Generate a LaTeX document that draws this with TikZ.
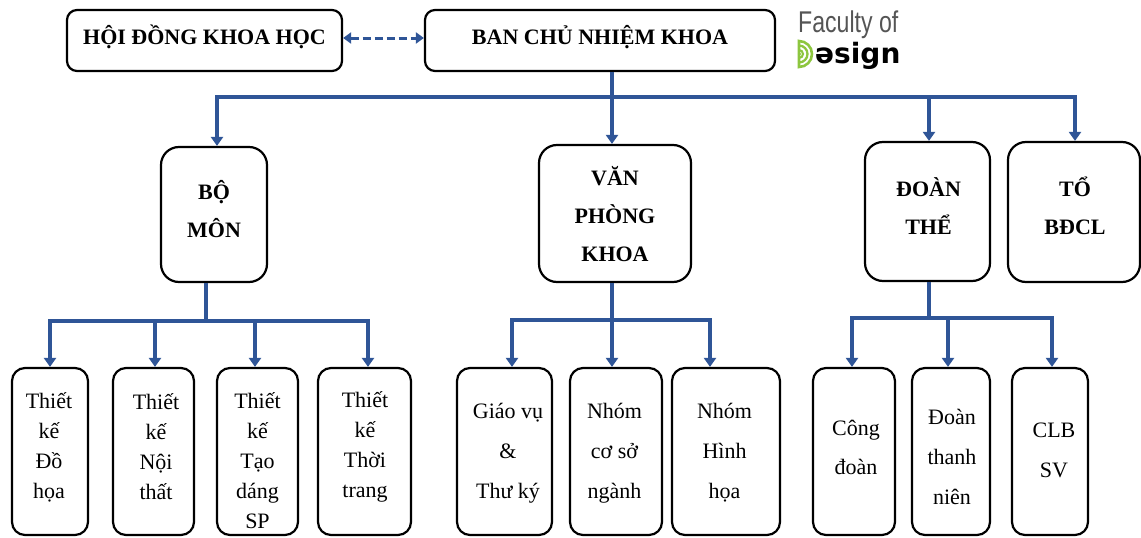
\documentclass[tikz,border=0pt]{standalone}
\usepackage{fontspec}
\setmainfont{Liberation Serif}
\newfontfamily\logofont{Liberation Sans}
\newfontfamily\logobold{DejaVu Sans}
\usetikzlibrary{arrows.meta}
\definecolor{linkblue}{RGB}{47,85,151}
\definecolor{logogreen}{RGB}{141,198,63}
\definecolor{logogray}{RGB}{85,85,85}
\begin{document}
\begin{tikzpicture}[x=1pt,y=-1pt,
  box/.style={draw=black, line width=2.2pt, inner sep=0pt, fill=white},
  topbox/.style={box, rounded corners=10pt},
  midbox/.style={box, rounded corners=18pt},
  leafbox/.style={box, rounded corners=13pt},
  boldtxt/.style={font=\fontsize{22}{38}\selectfont\bfseries, align=center, inner sep=0pt},
  leaftxt/.style={font=\fontsize{22}{30}\selectfont, align=center, inner sep=0pt},
  leaftxtw/.style={font=\fontsize{22}{40}\selectfont, align=center, inner sep=0pt},
  conn/.style={draw=linkblue, line width=3.5pt},
  arr/.style={conn, -{Triangle[width=12pt,length=9pt]}},
  dasharr/.style={draw=linkblue, line width=3pt, dash pattern=on 8pt off 4pt,
    {Triangle[width=11pt,length=8pt]}-{Triangle[width=11pt,length=8pt]}},
]
\useasboundingbox (0,0) rectangle (1141,538);

% top row
\node[topbox, minimum width=275pt, minimum height=61pt] (hoi) at (204.5,40.5) {};
\node[boldtxt, anchor=base] (hoit) at (204.5,44) {HỘI ĐỒNG KHOA HỌC};
\node[topbox, minimum width=350pt, minimum height=61pt] (ban) at (600,40.5) {};
\node[boldtxt, anchor=base] (bant) at (600,44) {BAN CHỦ NHIỆM KHOA};
\draw[dasharr] ([yshift=2.5pt]hoi.east) -- ([yshift=2.5pt]ban.west);

% logo
\node[font=\logofont\fontsize{30}{30}\selectfont, text=logogray, anchor=base west,
  inner sep=0pt, xscale=0.77] (fac) at (798,32) {Faculty of};
\node[font=\logobold\bfseries\fontsize{28}{28}\selectfont, anchor=base west,
  inner sep=0pt] (des) at (815,63) {əsign};
\draw[logogreen, line width=2.6pt] (799,41) arc (-90:90:13) -- cycle;
\draw[logogreen, line width=2.3pt] (799,45.5) arc (-90:90:8.5);
\draw[logogreen, line width=2.1pt] (799,50) arc (-90:90:4);
\fill[logogreen] (799.5,54) circle (1.6);

% second row
\node[midbox, minimum width=106pt, minimum height=135pt] (bomon) at (214,214.5) {};
\node[boldtxt] (bomont) at (214,209) {BỘ\\MÔN};
\node[midbox, minimum width=152pt, minimum height=137pt] (vp) at (615,213.5) {};
\node[boldtxt] (vpt) at (615,214.5) {VĂN\\PHÒNG\\KHOA};
\node[midbox, minimum width=125pt, minimum height=139pt] (doan) at (927.5,211.5) {};
\node[boldtxt] (doant) at (928.5,206) {ĐOÀN\\THỂ};
\node[midbox, minimum width=132pt, minimum height=140pt] (to) at (1074,212) {};
\node[boldtxt] (tot) at (1075,206) {TỔ\\BĐCL};

% main connectors
\coordinate (hub) at (612,97);
\draw[conn] (ban.south -| hub) -- (hub);
\draw[arr] (hub) -- (hub |- vp.north);
\draw[arr] (hub) -| ([xshift=3pt]bomon.north);
\draw[arr] (hub) -| ([xshift=1.5pt]doan.north);
\draw[arr] (hub) -| ([xshift=1pt]to.north);

% Bo mon children
\node[leafbox, minimum width=76pt, minimum height=167pt] (c1) at (50,451.5) {};
\node[leaftxt] (c1t) at (49,447) {Thiết\\kế\\Đồ\\họa};
\node[leafbox, minimum width=81pt, minimum height=167pt] (c2) at (153.5,451.5) {};
\node[leaftxt] (c2t) at (156,447) {Thiết\\kế\\Nội\\thất};
\node[leafbox, minimum width=81pt, minimum height=167pt] (c3) at (257.5,451.5) {};
\node[leaftxt] (c3t) at (257.5,461) {Thiết\\kế\\Tạo\\dáng\\SP};
\node[leafbox, minimum width=93pt, minimum height=167pt] (c4) at (364.5,451.5) {};
\node[leaftxt] (c4t) at (365,447) {Thiết\\kế\\Thời\\trang};
\coordinate (bmh) at (206,321);
\draw[conn] (bomon.south -| bmh) -- (bmh);
\draw[arr] (bmh) -| (c1.north);
\draw[arr] (bmh) -| ([xshift=1.5pt]c2.north);
\draw[arr] (bmh) -| ([xshift=-2.5pt]c3.north);
\draw[arr] (bmh) -| ([xshift=3.5pt]c4.north);

% Van phong children
\node[leafbox, minimum width=95pt, minimum height=167pt] (g1) at (504.5,451.5) {};
\node[leaftxtw] (g1t) at (508,453) {Giáo vụ\\\&\\Thư ký};
\node[leafbox, minimum width=92pt, minimum height=167pt] (g2) at (616,451.5) {};
\node[leaftxtw] (g2t) at (614.5,453) {Nhóm\\cơ sở\\ngành};
\node[leafbox, minimum width=108pt, minimum height=167pt] (g3) at (726,451.5) {};
\node[leaftxtw] (g3t) at (724.5,453) {Nhóm\\Hình\\họa};
\coordinate (vph) at (612,320);
\draw[conn] (vp.south -| vph) -- (vph);
\draw[arr] (vph) -| ([xshift=7.5pt]g1.north);
\draw[arr] (vph) -| ([xshift=-4pt]g2.north);
\draw[arr] (vph) -| ([xshift=-16pt]g3.north);

% Doan the children
\node[leafbox, minimum width=82pt, minimum height=167pt] (d1) at (854,451.5) {};
\node[leaftxtw, font=\fontsize{22}{39}\selectfont] (d1t) at (856,447.5) {Công\\đoàn};
\node[leafbox, minimum width=78pt, minimum height=167pt] (d2) at (951,451.5) {};
\node[leaftxtw] (d2t) at (952,457) {Đoàn\\thanh\\niên};
\node[leafbox, minimum width=76pt, minimum height=167pt] (d3) at (1050,451.5) {};
\node[leaftxtw] (d3t) at (1054,450) {CLB\\SV};
\coordinate (dth) at (929,318);
\draw[conn] (doan.south -| dth) -- (dth);
\draw[arr] (dth) -| ([xshift=-2pt]d1.north);
\draw[arr] (dth) -| ([xshift=-3pt]d2.north);
\draw[arr] (dth) -| ([xshift=2pt]d3.north);
\end{tikzpicture}
\end{document}
